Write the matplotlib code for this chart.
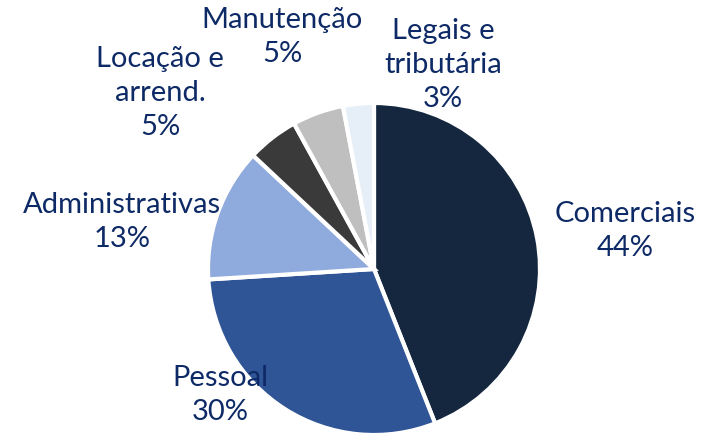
import matplotlib
matplotlib.use("Agg")
import matplotlib.pyplot as plt

categories = ["Comerciais", "Pessoal", "Administrativas", "Locação e\narrend.", "Manutenção", "Legais e\ntributária"]
shares = [44, 30, 13, 5, 5, 3]
colors = ["#14273e", "#2f5597", "#8faadc", "#3a3a3a", "#bfbfbf", "#e6eef8"]

# label anchor points (pixels from top-left)
label_pos = [(625, 231), (220, 395), (122, 222), (160, 93), (282, 37), (443, 65)]

W, H = 708, 433
fig = plt.figure(figsize=(W / 100, H / 100), dpi=100)
ax = fig.add_axes([0, 0, 1, 1])
ax.set_xlim(0, W)
ax.set_ylim(0, H)
ax.set_aspect("equal")
ax.axis("off")

ax.pie(shares, colors=colors, startangle=90, counterclock=False,
       center=(374, H - 269), radius=166,
       wedgeprops=dict(edgecolor="white", linewidth=3))
ax.set_xlim(0, W)
ax.set_ylim(0, H)

for name, val, (x, y) in zip(categories, shares, label_pos):
    ax.text(x, H - y, f"{name}\n{val}%", ha="center", va="center",
            fontsize=21, color="#0e2a66", family="Lato", linespacing=1.38)

fig.savefig("out.png", dpi=100)
